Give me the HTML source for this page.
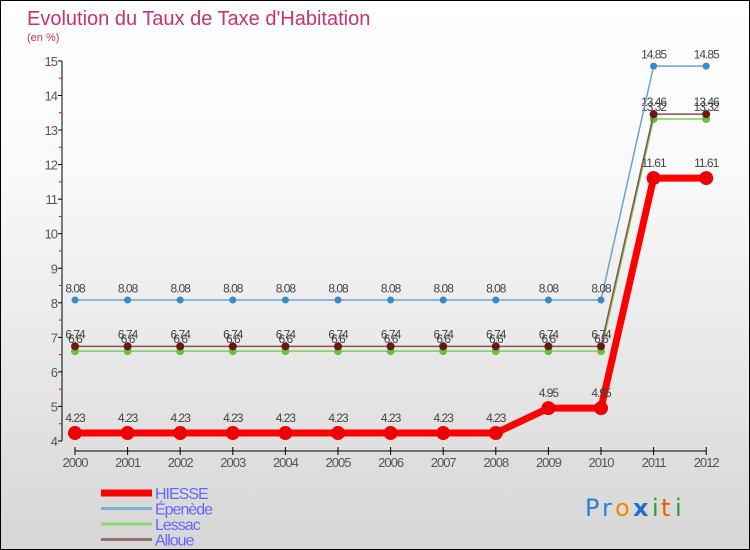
<!DOCTYPE html>
<html><head><meta charset="utf-8"><style>
body{margin:0}
#c{width:748px;height:548px;border:1px solid #000;background:linear-gradient(#fff,#fafafa 30%,#d6d6d6);position:relative;font-family:"Liberation Sans",sans-serif;overflow:hidden}
</style></head><body>
<div id="c">
<svg id="s" width="748" height="548" xmlns="http://www.w3.org/2000/svg">
<text x="26" y="24" font-size="20" fill="#c8336a">Evolution du Taux de Taxe d'Habitation</text>
<text x="26" y="40" font-size="11" fill="#c8336a">(en %)</text>
<g font-family="DejaVu Sans" font-size="24">
<text x="584" y="515" fill="#2a7fd4">P</text><text x="601" y="515" fill="#2a7fd4">r</text><text x="614" y="515" fill="#f08a00">o</text><text x="632" y="515" fill="#1f6fd0" font-weight="bold">x</text><text x="651" y="515" fill="#2aa02a">i</text><text x="660" y="515" fill="#f05a00">t</text><text x="674" y="515" fill="#2aa02a">i</text></g>
</svg>
</div>
<script>
const years=[2000,2001,2002,2003,2004,2005,2006,2007,2008,2009,2010,2011,2012];
const hiesse=[4.23,4.23,4.23,4.23,4.23,4.23,4.23,4.23,4.23,4.95,4.95,11.61,11.61];
const epenede=[8.08,8.08,8.08,8.08,8.08,8.08,8.08,8.08,8.08,8.08,8.08,14.85,14.85];
const lessac=[6.6,6.6,6.6,6.6,6.6,6.6,6.6,6.6,6.6,6.6,6.6,13.32,13.32];
const alloue=[6.74,6.74,6.74,6.74,6.74,6.74,6.74,6.74,6.74,6.74,6.74,13.46,13.46];
const yTicks=[4,5,6,7,8,9,10,11,12,13,14,15];
const seriesNames=["HIESSE","Épenède","Lessac","Alloue"];
const s=document.getElementById('s');const NS='http://www.w3.org/2000/svg';
const X=i=>74+i*52.6, Y=v=>440-(v-4)*34.55;
function mk(t,a,p){const e=document.createElementNS(NS,t);for(const k in a)e.setAttribute(k,a[k]);(p||s).appendChild(e);return e;}
let ax=mk('line',{x1:61,y1:60,x2:61,y2:440,stroke:'#000'});


yTicks.forEach(v=>{mk('line',{x1:57,x2:61,y1:Y(v),y2:Y(v),stroke:'#000'});
if(v<15)mk('line',{x1:58,x2:61,y1:Y(v+0.5),y2:Y(v+0.5),stroke:'#f00'});
let t=mk('text',{x:56,y:Y(v)+5,'text-anchor':'end','font-size':13,fill:'#555','letter-spacing':'-1'});t.textContent=v;

});
let xa=mk('line',{x1:X(0),y1:450,x2:X(12),y2:450,stroke:'#000'});


years.forEach((y,i)=>{mk('line',{x1:X(i),x2:X(i),y1:446,y2:454,stroke:'#000'});
let t=mk('text',{x:X(i),y:466,'text-anchor':'middle','font-size':13,fill:'#555','letter-spacing':'-1'});t.textContent=y;

});
function series(data,color,w,r,name,dot){const g=mk('g',{});


mk('polyline',{points:data.map((v,i)=>X(i)+','+Y(v)).join(' '),fill:'none',stroke:color,'stroke-width':w,'stroke-linejoin':'round'},g);
data.forEach((v,i)=>{mk('circle',{cx:X(i),cy:Y(v),r:r,fill:dot},g);
let t=mk('text',{x:X(i),y:Y(v)-(r+4),'text-anchor':'middle','font-size':12,fill:'#444','letter-spacing':'-1'},g);t.textContent=v;});}
series(lessac,'#7fd05a',1.5,4,'series-lessac','#6cc13a');
series(alloue,'#8a5050',1.5,4,'series-alloue','#6b1515');
series(epenede,'#6aa4d0',1.5,3.5,'series-epenede','#3a8ac8');
series(hiesse,'#f00',7,7,'series-hiesse','#e00');
const lc=['#f00','#80b0d0','#90d870','#987070'],lw=[7,3,3,3];
seriesNames.forEach((n,i)=>{const yy=492+i*15.5;
mk('line',{x1:100,x2:151,y1:yy,y2:yy,stroke:lc[i],'stroke-width':lw[i]});
let t=mk('text',{x:154,y:yy+6,'font-size':16,fill:'#6666ff','letter-spacing':'-1'});t.textContent=n;

});
</script>
</body></html>
